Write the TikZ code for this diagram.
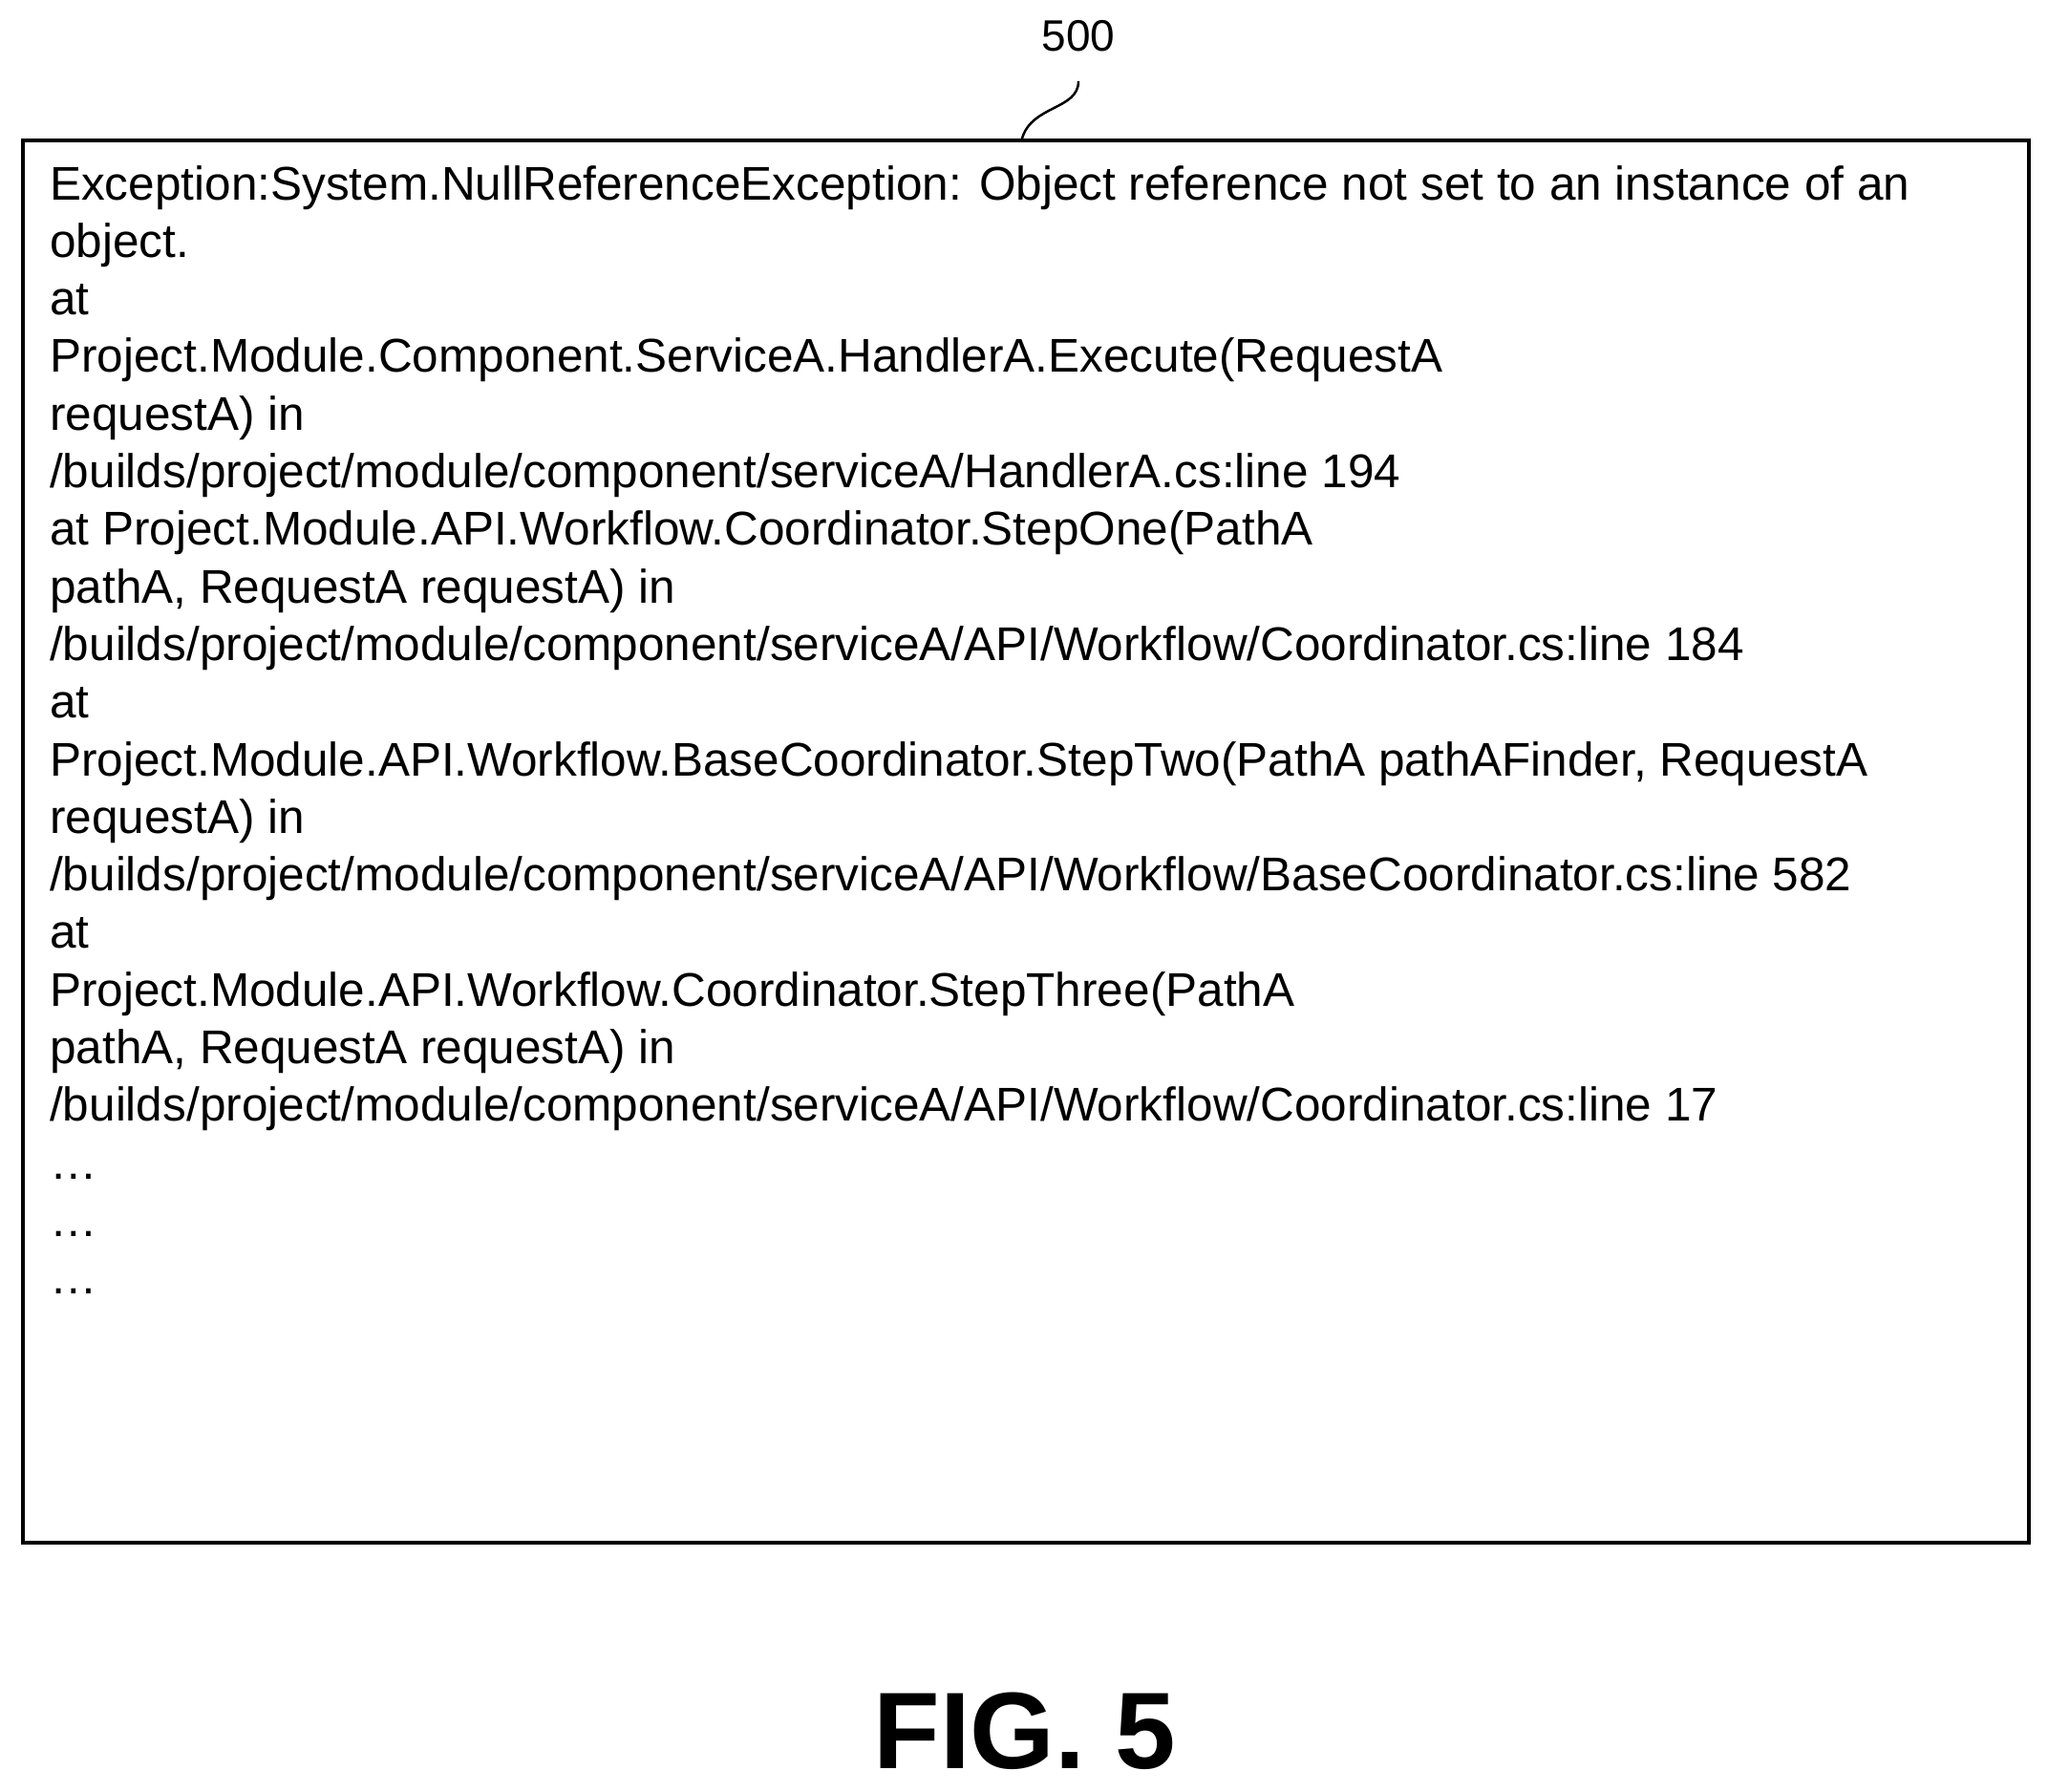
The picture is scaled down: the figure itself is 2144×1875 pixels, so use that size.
\documentclass[tikz,border=0pt]{standalone}
\usepackage{fontspec}
\setmainfont{Liberation Sans}
\begin{document}
\begin{tikzpicture}[x=1pt,y=-1pt,
  frame/.style={draw,line width=3.5pt},
  body/.style={anchor=north west,inner sep=0pt,align=left,font=\fontsize{49.5}{60.3}\selectfont}]
\useasboundingbox (0,0) rectangle (2144,1875);
\node[frame,minimum width=2100pt,minimum height=1468pt,anchor=north west,inner sep=0pt] (box) at (22,145) {};
\node[body] (txt) at (52,173) {Exception:System.NullReferenceException: Object reference not set to an instance of an\\
object.\\
at\\
Project.Module.Component.ServiceA.HandlerA.Execute(RequestA\\
requestA) in\\
/builds/project/module/component/serviceA/HandlerA.cs:line 194\\
at Project.Module.API.Workflow.Coordinator.StepOne(PathA\\
pathA, RequestA requestA) in\\
/builds/project/module/component/serviceA/API/Workflow/Coordinator.cs:line 184\\
at\\
Project.Module.API.Workflow.BaseCoordinator.StepTwo(PathA pathAFinder, RequestA\\
requestA) in\\
/builds/project/module/component/serviceA/API/Workflow/BaseCoordinator.cs:line 582\\
at\\
Project.Module.API.Workflow.Coordinator.StepThree(PathA\\
pathA, RequestA requestA) in\\
/builds/project/module/component/serviceA/API/Workflow/Coordinator.cs:line 17\\
\dots\\
\dots\\
\dots};
\node[font=\fontsize{46}{50}\selectfont] (lbl) at (1129,38) {500};
\coordinate (tip) at (1070,145);
\draw[line width=2.5pt] (1129,85) .. controls (1129,115) and (1080,110) .. (tip);
\node[font=\bfseries\fontsize{114}{120}\selectfont] (fig) at (1073,1812) {FIG. 5};
\end{tikzpicture}
\end{document}
